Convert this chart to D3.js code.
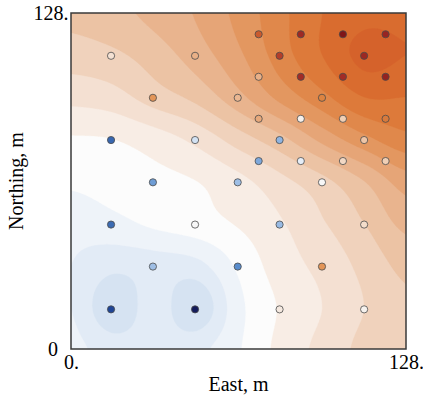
<!DOCTYPE html>
<html><head><meta charset="utf-8">
<script src="https://cdn.jsdelivr.net/npm/d3@7"></script>
<style>html,body{margin:0;padding:0;background:#fff;} svg{display:block;}</style>
</head><body>
<svg id="chart" width="423" height="400"></svg>
<script>
// ---- data ----
const pointEast  = [71.7,87.8,103.9,120.2, 15.3,47.4,79.7,112, 71.7,87.8,103.9,120.2, 31.3,63.7,95.9, 71.7,87.8,103.9,120.2, 15.3,47.4,79.7,112, 71.7,87.8,103.9,120.2, 31.3,63.7,95.9, 15.3,47.4,79.7,112, 31.3,63.7,95.9, 15.3,47.4,79.7,112];
const pointNorth = [119.9,119.9,119.9,119.9, 111.7,111.7,111.7,111.7, 103.7,103.7,103.7,103.7, 95.7,95.7,95.7, 87.7,87.7,87.7,87.7, 79.6,79.6,79.6,79.6, 71.6,71.6,71.6,71.6, 63.5,63.5,63.5, 47.4,47.4,47.4,47.4, 31.4,31.4,31.4, 15.1,15.1,15.1,15.1];
const pointValue = [0.65,0.85,1.0,0.88, 0.12,0.33,0.75,0.86, 0.33,0.83,0.83,0.9, 0.45,0.3,0.52, 0.36,0.04,0.2,0.55, -0.68,-0.12,-0.35,0.24, -0.4,-0.06,0.16,0.2, -0.45,-0.3,0.0, -0.66,0.0,-0.32,0.14, -0.3,-0.52,0.45, -0.85,-1.0,0.08,0.03];

// background surface, read on a 16 m grid (rows from North=0 upward, columns East=0..128)
const gridStep = 16;
const surface = [
  [-0.12,-0.20,-0.20,-0.18,-0.06,0.08,0.18,0.28,0.35],
  [-0.15,-0.33,-0.20,-0.33,-0.08,0.06,0.15,0.25,0.33],
  [-0.15,-0.22,-0.20,-0.18,-0.03,0.10,0.18,0.28,0.38],
  [-0.12,-0.08,-0.03,0.01,0.06,0.14,0.24,0.35,0.48],
  [-0.03,0.00,0.02,0.05,0.12,0.22,0.32,0.45,0.60],
  [0.04,0.05,0.10,0.18,0.30,0.42,0.58,0.72,0.82],
  [0.18,0.21,0.30,0.38,0.52,0.68,0.82,0.95,0.95],
  [0.30,0.33,0.40,0.50,0.63,0.80,0.95,1.08,1.05],
  [0.38,0.42,0.48,0.56,0.68,0.82,0.95,1.02,1.02]
];
const xTicks = [0,128], xTickLabels = ["0.","128."];
const yTicks = [0,128], yTickLabels = ["0","128."];
const xTitle = "East, m", yTitle = "Northing, m";

const bgDomain = [-0.5,-0.4,-0.3,-0.2,-0.1,0,0.1,0.2,0.3,0.4,0.5,0.6,0.7,0.8,0.9,1.0,1.1];
const bgRange  = ['#c6d9ef','#cddff1','#d6e3f2','#e2ebf6','#eef3f9','#fcfcfc','#f8ede5','#f4e0d2','#f0d2bc','#ecc3a4','#e9b48e','#e6a577','#e39760','#e0884b','#dd7a3a','#d96c2f','#d5622b'];
const ptDomain = [-1,-0.85,-0.65,-0.5,-0.35,-0.2,-0.05,0,0.1,0.2,0.35,0.5,0.65,0.8,1.0];
const ptRange  = ['#141c5c','#1f4596','#3c6db5','#5d91d0','#8fb4e0','#bcd3ee','#e8eff8','#f7f7f7','#f5e6da','#f0cfb5','#e8ab80','#e08a44','#c95a2e','#a83028','#7f1518'];

// ---- layout ----
const svg = d3.select("#chart");
const L = 71, R = 406, T = 13, B = 349;
const x = d3.scaleLinear().domain([0,128]).range([L,R]);
const y = d3.scaleLinear().domain([0,128]).range([B,T]);
const bg = d3.scaleLinear().domain(bgDomain).range(bgRange).clamp(true);
const pc = d3.scaleLinear().domain(ptDomain).range(ptRange).clamp(true);
const font = "'Liberation Serif','Times New Roman',serif";

// smooth (Catmull-Rom) evaluation of the read surface
const G = surface.length;
function g(r,c){ r=Math.max(0,Math.min(G-1,r)); c=Math.max(0,Math.min(G-1,c)); return surface[r][c]; }
function cr(p0,p1,p2,p3,t){ return 0.5*((2*p1)+(-p0+p2)*t+(2*p0-5*p1+4*p2-p3)*t*t+(-p0+3*p1-3*p2+p3)*t*t*t); }
function field(u,v){
  const fu=u/gridStep, fv=v/gridStep;
  let c=Math.floor(fu), r=Math.floor(fv); if(c>=G-1)c=G-2; if(r>=G-1)r=G-2;
  const tu=fu-c, tv=fv-r;
  const rows=[];
  for(let k=-1;k<=2;k++) rows.push(cr(g(r+k,c-1),g(r+k,c),g(r+k,c+1),g(r+k,c+2),tu));
  return cr(rows[0],rows[1],rows[2],rows[3],tv);
}
const n = 257, step = 128/(n-1);
const vals = new Array(n*n);
for(let j=0;j<n;j++) for(let i=0;i<n;i++) vals[j*n+i]=field(i*step,j*step);
const thresholds = d3.range(-0.55,1.2,0.1);
const contours = d3.contours().size([n,n]).thresholds(thresholds)(vals);
const proj = d3.geoTransform({point:function(px,py){
  const u=Math.max(0,Math.min(128,(px-0.5)*step)), v=Math.max(0,Math.min(128,(py-0.5)*step));
  this.stream.point(x(u),y(v));}});
const path = d3.geoPath(proj);

svg.append("clipPath").attr("id","clip").append("rect").attr("x",L).attr("y",T).attr("width",R-L).attr("height",B-T);
const plot = svg.append("g").attr("clip-path","url(#clip)");
plot.append("rect").attr("x",L).attr("y",T).attr("width",R-L).attr("height",B-T).attr("fill",bg(-0.5));
plot.selectAll("path.band").data(contours).join("path").attr("class","band")
  .attr("d",path).attr("fill",d=>bg(d.value+0.05)).attr("stroke",d=>bg(d.value+0.05)).attr("stroke-width",0.3);

// points
const pts = d3.range(pointValue.length);
svg.append("g").selectAll("circle").data(pts).join("circle")
  .attr("cx",i=>x(pointEast[i])).attr("cy",i=>y(pointNorth[i])).attr("r",3.6)
  .attr("fill",i=>pc(pointValue[i])).attr("stroke","#4a4a4a").attr("stroke-width",0.8);

// frame
svg.append("rect").attr("x",L).attr("y",T).attr("width",R-L).attr("height",B-T)
  .attr("fill","none").attr("stroke","#3a3a3a").attr("stroke-width",1.5);

// axes
const xa = svg.append("g").attr("transform",`translate(0,${B})`)
  .call(d3.axisBottom(x).tickValues(xTicks).tickSize(0).tickPadding(5.5).tickFormat((d,i)=>xTickLabels[i]));
const ya = svg.append("g").attr("transform",`translate(${L},0)`)
  .call(d3.axisLeft(y).tickValues(yTicks).tickSize(0).tickPadding(2.5).tickFormat((d,i)=>yTickLabels[i]));
[xa,ya].forEach(a=>{a.select(".domain").remove();
  a.selectAll("text").attr("font-family",font).attr("font-size",20).attr("fill","#000");});
ya.selectAll("text").filter(d=>d===0).attr("x",-13);

svg.append("text").attr("x",(L+R)/2).attr("y",391).attr("text-anchor","middle")
  .attr("font-family",font).attr("font-size",20).text(xTitle);
svg.append("text").attr("transform",`translate(23,${(T+B)/2}) rotate(-90)`).attr("text-anchor","middle")
  .attr("font-family",font).attr("font-size",20).text(yTitle);
</script>
</body></html>
